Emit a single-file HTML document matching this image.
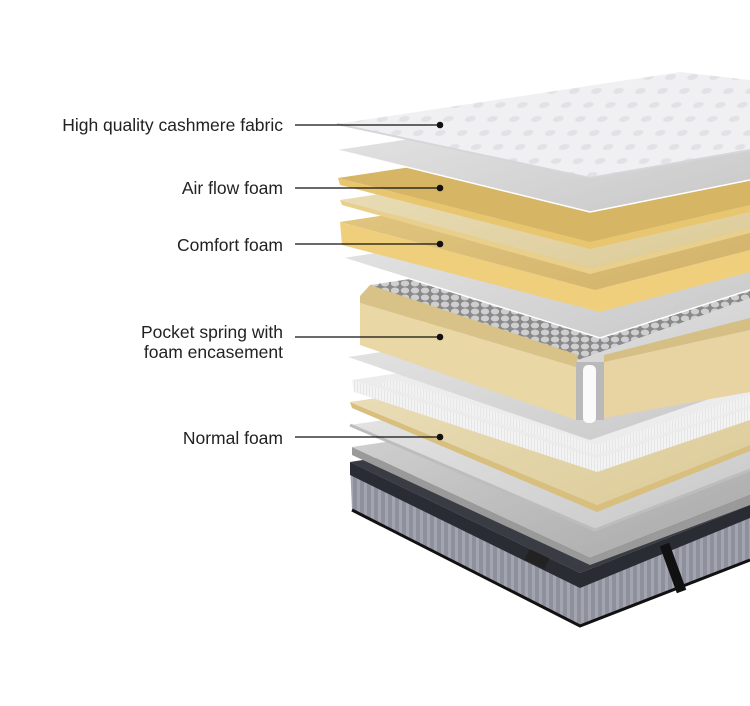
<!DOCTYPE html>
<html><head><meta charset="utf-8"><style>
html,body{margin:0;padding:0;background:#fff;}
svg{display:block}
text{font-family:"Liberation Sans",sans-serif;font-size:17.5px;fill:#222}
</style></head><body>
<svg width="750" height="706" viewBox="0 0 750 706" xmlns="http://www.w3.org/2000/svg">
<defs>
<pattern id="stripes" width="7" height="10" patternUnits="userSpaceOnUse">
<rect width="7" height="10" fill="#8e909c"/><rect width="3" height="10" fill="#a2a4af"/>
</pattern>
<pattern id="dots" width="22" height="14" patternUnits="userSpaceOnUse" patternTransform="skewX(-30)">
<rect width="22" height="14" fill="#f0f0f2"/><ellipse cx="11" cy="7" rx="5" ry="3" fill="#e2e2e6"/>
</pattern>
<pattern id="hex" width="10" height="7" patternUnits="userSpaceOnUse">
<rect width="10" height="7" fill="#8a8a8a"/><ellipse cx="5" cy="3.5" rx="4.2" ry="3" fill="#cfcfd1"/>
</pattern>
<pattern id="mesh" width="3" height="3" patternUnits="userSpaceOnUse">
<rect width="3" height="3" fill="#f3f3f3"/><rect width="1" height="3" fill="#e6e6e6"/>
</pattern>
<linearGradient id="gr1" x1="0" y1="0" x2="1" y2="1"><stop offset="0" stop-color="#e8e8e8"/><stop offset="1" stop-color="#c8c8c8"/></linearGradient>
<linearGradient id="gr2" x1="0" y1="0" x2="1" y2="1"><stop offset="0" stop-color="#d6d6d6"/><stop offset="1" stop-color="#a8a8a8"/></linearGradient>
<linearGradient id="yel" x1="0" y1="0" x2="1" y2="1"><stop offset="0" stop-color="#e4ca84"/><stop offset="1" stop-color="#d2b26a"/></linearGradient>
<linearGradient id="beige" x1="0" y1="0" x2="1" y2="1"><stop offset="0" stop-color="#ece0bc"/><stop offset="1" stop-color="#dccb98"/></linearGradient>
</defs>

<!-- Base mattress -->
<polygon points="350,462 580,573 750,505 750,560 580,626 352,510" fill="url(#stripes)"/>
<polygon points="350,462 580,573 750,505 750,400" fill="#3a3c44"/>
<polygon points="350,462 580,573 750,505 750,518 580,588 350,475" fill="#2a2c34"/>
<polyline points="352,510 580,626 750,560" fill="none" stroke="#111" stroke-width="3"/>
<rect x="668" y="543" width="10" height="50" fill="#111" transform="rotate(-20 673 568)"/>
<rect x="526" y="553" width="22" height="12" fill="#222" transform="rotate(25 537 559)"/>
<!-- layer 12 gray -->
<polygon points="352,447 590,558 750,495 750,505 590,565 352,455" fill="#9a9a9a"/>
<polygon points="352,447 590,558 750,495 750,387" fill="url(#gr2)"/>
<!-- layer 11 gray -->
<polygon points="350,425 595,530 750,470 750,365" fill="url(#gr1)"/>
<polyline points="350,425 595,530 750,470" fill="none" stroke="#bdbdbd" stroke-width="3"/>
<!-- layer 10 beige -->
<polygon points="350,402 597,505 750,445 750,451 597,512 352,408" fill="#d8bf7e"/>
<polygon points="350,402 597,505 750,445 750,342" fill="url(#beige)"/>
<!-- layer 9 white mesh -->
<polygon points="352,380 597,458 750,408 750,420 597,472 354,392" fill="url(#mesh)"/>
<polygon points="352,380 597,458 750,408 750,320" fill="#ececec"/>
<polygon points="380,385 597,455 750,405 750,395 597,445 390,378" fill="url(#mesh)" opacity=".8"/>
<!-- layer 8 gray -->
<polygon points="348,357 590,440 750,385 750,297" fill="url(#gr1)"/>

<!-- spring block -->
<polygon points="370,285 578,360 750,298 750,228" fill="url(#hex)"/>
<polygon points="360,303 576,367 576,420 360,345" fill="#ead7a6"/>
<polygon points="360,296 370,285 578,355 576,367 360,303" fill="#d8c288"/>
<polygon points="604,362 750,330 750,392 604,418" fill="#e8d4a2"/>
<polygon points="604,355 750,318 750,330 604,362" fill="#d6bf85"/>
<rect x="576" y="362" width="28" height="58" fill="#b9b9b9"/>
<rect x="583" y="365" width="13" height="58" rx="5" fill="#fafafa"/>

<!-- layer 6 gray -->
<polygon points="343,258 600,338 750,290 750,197" fill="url(#gr1)"/>
<polyline points="343,258 600,338 750,290" fill="none" stroke="#fff" stroke-width="1.5"/>
<!-- layer 5 comfort foam -->
<polygon points="340,222 595,290 750,250 750,272 600,312 342,245" fill="#efcf7c"/>
<polygon points="340,222 595,290 750,250 750,160" fill="url(#yel)"/>
<!-- layer 4 thin beige -->
<polygon points="340,200 590,268 750,228 750,233 590,274 342,205" fill="#e8cf8c"/>
<polygon points="340,200 590,268 750,228 750,138" fill="url(#beige)"/>
<!-- layer 3 airflow -->
<polygon points="338,178 590,242 750,205 750,212 590,249 340,185" fill="#e8c670"/>
<polygon points="338,178 590,242 750,205 750,116" fill="#d6b565"/>
<!-- layer 2 gray sheet -->
<polygon points="337,150 590,212 750,180 750,88" fill="url(#gr1)"/>
<polyline points="337,150 590,212 750,180" fill="none" stroke="#fff" stroke-width="1.5"/>
<!-- layer 1 fabric -->
<polygon points="337,124 590,178 750,150 750,80 680,72" fill="url(#dots)"/>
<polyline points="337,124 590,178 750,150" fill="none" stroke="#d6d6da" stroke-width="2"/>

<!-- labels -->
<g stroke="#111" stroke-width="1.3">
<line x1="295" y1="125" x2="440" y2="125"/>
<line x1="295" y1="188" x2="440" y2="188"/>
<line x1="295" y1="244" x2="440" y2="244"/>
<line x1="295" y1="337" x2="440" y2="337"/>
<line x1="295" y1="437" x2="440" y2="437"/>
</g>
<g fill="#111">
<circle cx="440" cy="125" r="3.3"/><circle cx="440" cy="188" r="3.3"/><circle cx="440" cy="244" r="3.3"/><circle cx="440" cy="337" r="3.3"/><circle cx="440" cy="437" r="3.3"/>
</g>
<g text-anchor="end">
<text x="283" y="131">High quality cashmere fabric</text>
<text x="283" y="194">Air flow foam</text>
<text x="283" y="251">Comfort foam</text>
<text x="283" y="338">Pocket spring with</text>
<text x="283" y="358">foam encasement</text>
<text x="283" y="444">Normal foam</text>
</g>
</svg>
</body></html>
